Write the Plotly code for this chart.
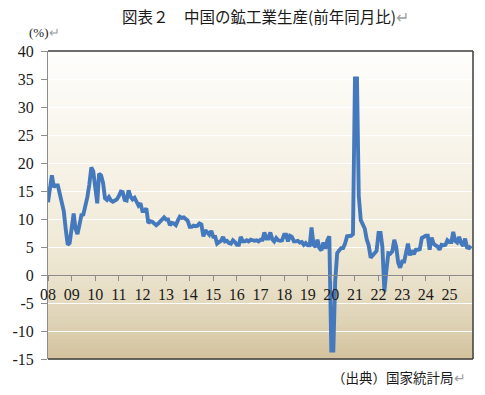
import pandas as pd
import plotly.graph_objects as go

# China industrial production, YoY % (monthly, Jan 2008 - Dec 2025)
ip_2008 = [13.0, 15.4, 17.8, 15.7, 16.0, 16.0, 14.7, 12.8, 11.4, 8.2, 5.4, 5.7]
ip_2009 = [8.4, 11.0, 8.3, 7.3, 8.9, 10.7, 10.8, 12.3, 13.9, 16.1, 19.2, 18.5]
ip_2010 = [15.6, 12.8, 18.1, 17.8, 16.5, 13.7, 13.4, 13.9, 13.3, 13.1, 13.3, 13.5]
ip_2011 = [14.1, 14.9, 14.8, 13.4, 13.3, 15.1, 14.0, 13.5, 13.8, 13.2, 12.4, 12.8]
ip_2012 = [11.4, 11.4, 11.9, 9.3, 9.6, 9.5, 9.2, 8.9, 9.2, 9.6, 10.1, 10.3]
ip_2013 = [9.9, 9.9, 8.9, 9.3, 9.2, 8.9, 9.7, 10.4, 10.2, 10.3, 10.0, 9.7]
ip_2014 = [8.6, 8.6, 8.8, 8.7, 8.8, 9.2, 9.0, 6.9, 8.0, 7.7, 7.2, 7.9]
ip_2015 = [6.8, 6.8, 5.6, 5.9, 6.1, 6.8, 6.0, 6.1, 5.7, 5.6, 6.2, 5.9]
ip_2016 = [5.4, 5.4, 6.8, 6.0, 6.0, 6.2, 6.0, 6.3, 6.1, 6.1, 6.2, 6.0]
ip_2017 = [6.3, 6.3, 7.6, 6.5, 6.5, 7.6, 6.4, 6.0, 6.6, 6.2, 6.1, 6.2]
ip_2018 = [7.2, 7.2, 6.0, 7.0, 6.8, 6.0, 6.0, 6.1, 5.8, 5.9, 5.4, 5.7]
ip_2019 = [5.3, 5.3, 8.5, 5.4, 5.0, 6.3, 4.8, 4.4, 5.8, 4.7, 6.2, 6.9]
ip_2020 = [-13.5, -13.5, -1.1, 3.9, 4.4, 4.8, 4.8, 5.6, 6.9, 6.9, 7.0, 7.3]
ip_2021 = [35.1, 35.1, 14.1, 9.8, 8.8, 8.3, 6.4, 5.3, 3.1, 3.5, 3.8, 4.3]
ip_2022 = [7.5, 7.5, 5.0, -2.9, 0.7, 3.9, 3.8, 4.2, 6.3, 5.0, 2.2, 1.3]
ip_2023 = [2.4, 2.4, 3.9, 5.6, 3.5, 4.4, 3.7, 4.5, 4.5, 4.6, 6.6, 6.8]
ip_2024 = [7.0, 7.0, 4.5, 6.7, 5.6, 5.3, 5.1, 4.5, 5.4, 5.3, 5.4, 6.2]
ip_2025 = [5.9, 5.9, 7.7, 6.1, 5.8, 6.8, 5.7, 5.2, 6.5, 4.9, 4.8, 5.2]

ip_yoy = (ip_2008 + ip_2009 + ip_2010 + ip_2011 + ip_2012 + ip_2013 + ip_2014
          + ip_2015 + ip_2016 + ip_2017 + ip_2018 + ip_2019 + ip_2020 + ip_2021
          + ip_2022 + ip_2023 + ip_2024 + ip_2025)
months = pd.date_range("2008-01-01", periods=len(ip_yoy), freq="MS")

year_ticks = pd.date_range("2008-01-01", "2025-01-01", freq="YS")
year_labels = ["08", "09", "10", "11", "12", "13", "14", "15", "16", "17",
               "18", "19", "20", "21", "22", "23", "24", "25"]
y_ticks = [-15, -10, -5, 0, 5, 10, 15, 20, 25, 30, 35, 40]
y_labels = ["-15", "-10", "-5", "0", "5", "10", "15", "20", "25", "30", "35", "40"]

title_text = "図表２　中国の鉱工業生産(前年同月比)"
unit_text = "(%)"
source_text = "（出典）国家統計局"

SERIF = "Liberation Serif, Times New Roman, serif"
CJK = "Noto Sans CJK JP, sans-serif"
RET = "<span style='color:#a0a0a0'>↵</span>"

W, H = 485, 395
ML, MR, MT, MB = 45, 12, 51, 36
PW, PH = W - ML - MR, H - MT - MB


def px_to_paper(px, py):
    return (px - ML) / PW, 1 - (py - MT) / PH


fig = go.Figure()
fig.add_trace(go.Scatter(
    x=months, y=ip_yoy, mode="lines",
    line=dict(color="#4579BE", width=3.9),
    hoverinfo="skip", showlegend=False,
))

# background gradient (white at top -> parchment/tan at bottom)
def lerp(c1, c2, t):
    return tuple(round(a + (b - a) * t) for a, b in zip(c1, c2))

stops = [(0.0, (254, 254, 252)), (0.35, (247, 243, 232)), (0.62, (240, 234, 215)),
         (0.75, (233, 225, 202)), (0.88, (223, 211, 182)), (1.0, (211, 194, 157))]
n_bands = 80
shapes = []
for i in range(n_bands):
    t = (i + 0.5) / n_bands  # from top
    for (s0, c0), (s1, c1) in zip(stops[:-1], stops[1:]):
        if s0 <= t <= s1:
            col = lerp(c0, c1, (t - s0) / (s1 - s0))
            break
    y1 = 1 - i / n_bands
    y0 = 1 - (i + 1) / n_bands
    shapes.append(dict(type="rect", xref="x domain", yref="y domain",
                       x0=0, x1=1, y0=y0 - 0.002, y1=y1 + 0.002, layer="below",
                       line=dict(width=0), fillcolor="rgb(%d,%d,%d)" % col))

# dark frame on top, right, bottom
for (x0, y0, x1, y1) in [(0, 1, 1, 1), (1, 0, 1, 1), (0, 0, 1, 0)]:
    shapes.append(dict(type="line", xref="x domain", yref="y domain",
                       x0=x0, y0=y0, x1=x1, y1=y1, layer="above",
                       line=dict(color="#3c3c3c", width=1.5)))

tx, ty = px_to_paper(264, 16)
ux, uy = px_to_paper(24, 33)
sx, sy = px_to_paper(468, 377)

fig.update_layout(
    width=W, height=H,
    margin=dict(l=ML, r=MR, t=MT, b=MB),
    paper_bgcolor="white", plot_bgcolor="rgba(0,0,0,0)",
    shapes=shapes,
    xaxis=dict(
        type="date", range=["2008-01-01", "2026-01-01"],
        tickvals=list(year_ticks), ticktext=year_labels,
        anchor="free", position=15 / 55,
        showline=True, linecolor="#8c8c8c", linewidth=1,
        ticks="outside", ticklen=5, tickcolor="#8c8c8c",
        showgrid=False, zeroline=False,
        tickfont=dict(family=SERIF, size=16, color="#1a1a1a"),
    ),
    yaxis=dict(
        range=[-15, 40], tickvals=y_ticks, ticktext=y_labels,
        showline=True, linecolor="#8c8c8c", linewidth=1,
        ticks="outside", ticklen=6, tickcolor="#8c8c8c",
        ticklabelstandoff=4,
        showgrid=True, gridcolor="white", gridwidth=1, zeroline=False,
        tickfont=dict(family=SERIF, size=16, color="#1a1a1a"),
    ),
    annotations=[
        dict(text=title_text + RET, xref="paper", yref="paper", x=tx, y=ty,
             xanchor="center", yanchor="middle", showarrow=False,
             font=dict(family=CJK, size=15.5, color="#1a1a1a")),
        dict(text=unit_text + RET, xref="paper", yref="paper", x=ux, y=uy,
             xanchor="left", yanchor="middle", showarrow=False,
             font=dict(family=SERIF, size=13, color="#1a1a1a")),
        dict(text=source_text + RET, xref="paper", yref="paper", x=sx, y=sy,
             xanchor="right", yanchor="middle", showarrow=False,
             font=dict(family=CJK, size=13.5, color="#1a1a1a")),
    ],
)

fig.write_html("out.html",
               config={"displayModeBar": False, "staticPlot": True},
               post_script="document.body.style.margin='0';document.body.style.overflow='hidden';")
